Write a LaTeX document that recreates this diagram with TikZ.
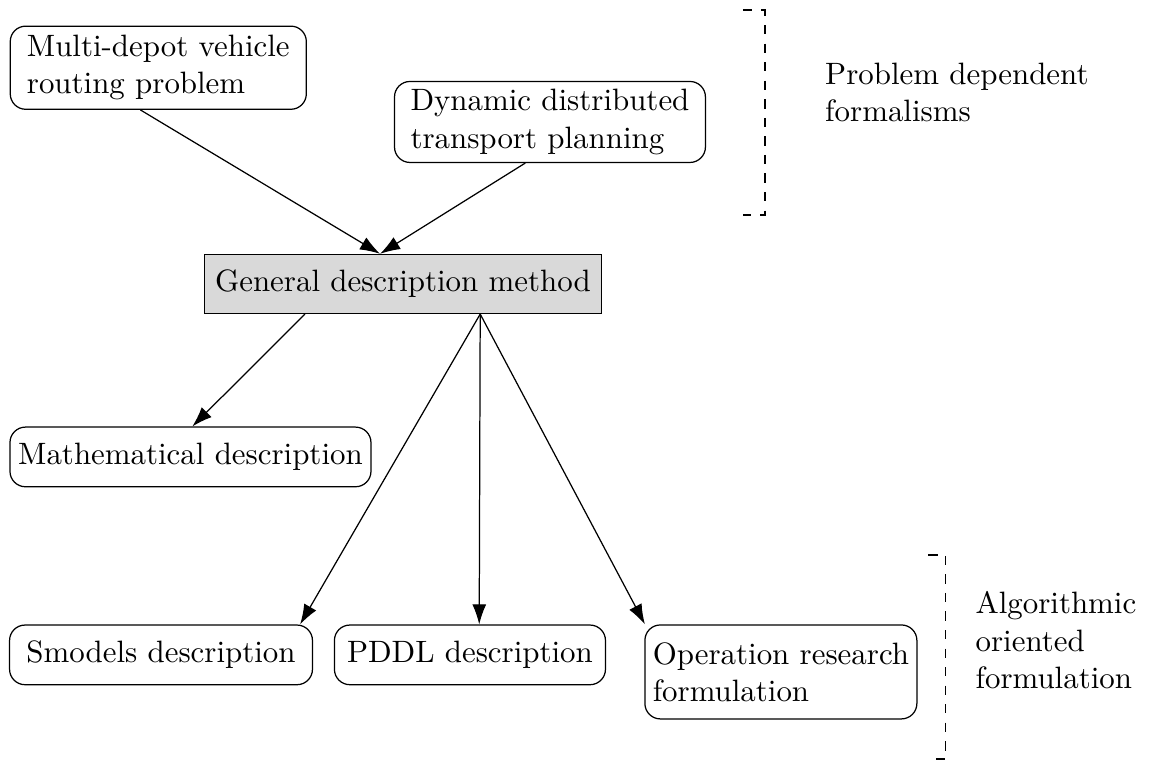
\documentclass[tikz,border=0pt]{standalone}
\usepackage{tikz}
\usetikzlibrary{arrows.meta,positioning}

\begin{document}
\begin{tikzpicture}[
    box/.style={draw, rounded corners=5pt, align=left, inner xsep=4pt, inner ysep=2pt, minimum height=19.3pt},
    gbox/.style={draw, fill=black!15, align=center, minimum width=127.5pt, minimum height=19.1pt},
    arr/.style={-{Latex[length=6.5pt,width=4.5pt]}},
    bracket/.style={dashed},
    note/.style={anchor=west, align=left}
]
\useasboundingbox (0,0) rectangle (13.1,-8.64);

% problem dependent part
\node[box, minimum width=95.8pt, minimum height=26.9pt] (mdvrp) at (1.80,-0.77) {Multi-depot vehicle\\routing problem};
\node[box, minimum width=100.6pt, minimum height=26.2pt] (ddtp) at (6.254,-1.387) {Dynamic distributed\\transport planning};

\node[gbox] (gdm) at (4.582,-3.229) {General description method};

% formulations
\node[box, inner xsep=1.8pt, minimum width=116.8pt] (math) at (2.166,-5.196) {Mathematical description};
\node[box, minimum width=98pt] (smodels) at (1.831,-7.447) {Smodels description};
\node[box, minimum width=87.7pt] (pddl) at (5.344,-7.447) {PDDL description};
\node[box, inner xsep=2.5pt, minimum width=88pt, minimum height=30.4pt] (opr) at (8.880,-7.641) {Operation research\\formulation};

\draw[arr] ([xshift=-5.8pt]mdvrp.south) -- ([xshift=-7.4pt]gdm.north);
\draw[arr] ([xshift=-8pt]ddtp.south) -- ([xshift=-7.4pt]gdm.north);
\draw[arr] ([xshift=-31.7pt]gdm.south) -- ([xshift=0.6pt]math.north);
\coordinate (fan) at ([xshift=25pt]gdm.south);
\draw[arr] (fan) -- ([xshift=45pt]smodels.north);
\draw[arr] (fan) -- ([xshift=3pt]pddl.north);
\draw[arr] (fan) -- ([xshift=-44pt]opr.north);

% dashed brackets
\coordinate (b1top) at (8.698,-0.114);
\coordinate (b1bot) at (8.698,-2.445);
\draw[bracket] ([xshift=-0.25cm]b1top) -- (b1top) -- (b1bot) -- ([xshift=-0.25cm]b1bot);
\node[note] (pdf) at (9.26,-1.05) {Problem dependent\\formalisms};

\coordinate (b2top) at (10.756,-6.31);
\coordinate (b2bot) at (10.756,-8.63);
\draw[bracket] ([xshift=-0.2cm]b2top) -- (b2top) -- (b2bot) -- ([xshift=-0.2cm]b2bot);
\node[note] (aof) at (10.97,-7.28) {Algorithmic\\oriented\\formulation};
\end{tikzpicture}
\end{document}
